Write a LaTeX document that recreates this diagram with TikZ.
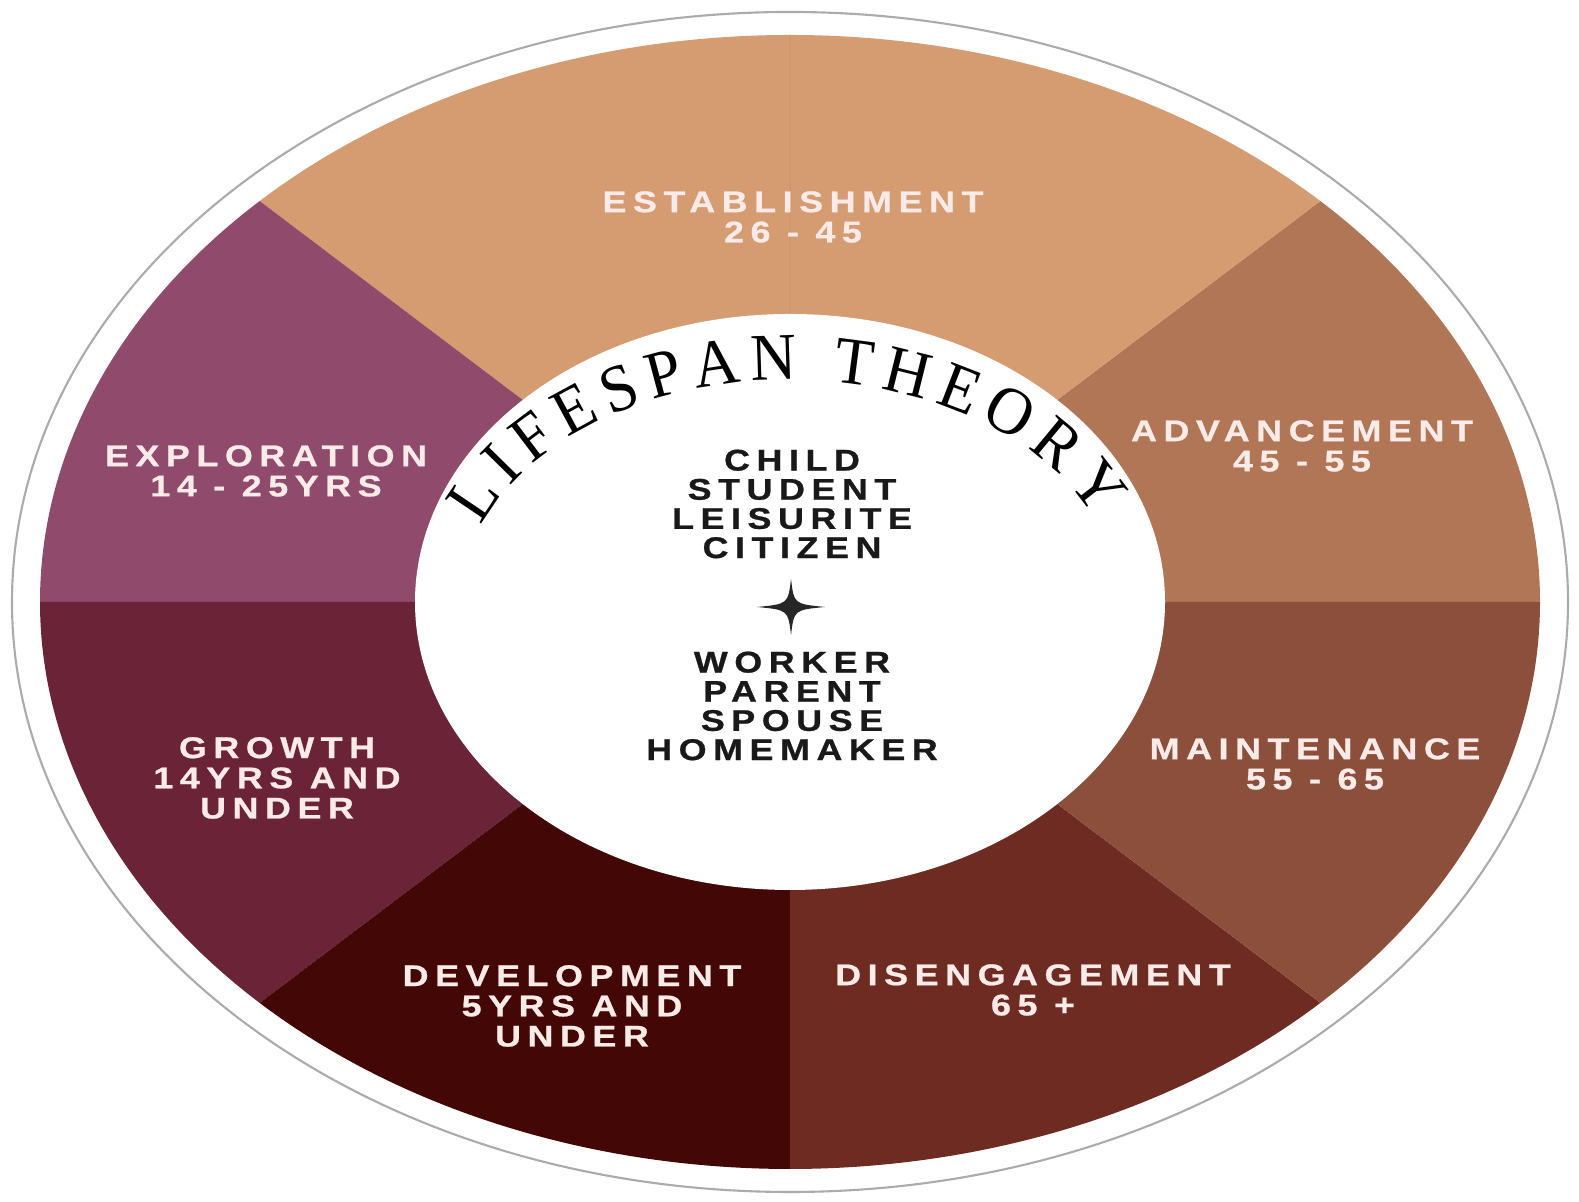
\documentclass[tikz,border=0pt]{standalone}
\usepackage{fontspec}
\setmainfont{Liberation Serif}
\newfontfamily\stagefont{Liberation Sans}[FakeStretch=1.2,LetterSpace=22,FakeBold=0.8]
\newfontfamily\arcfont{Liberation Serif}[FakeStretch=0.95]
\usetikzlibrary{calc,decorations.text}

\definecolor{establish}{HTML}{D59B71}
\definecolor{advance}{HTML}{B17655}
\definecolor{maintain}{HTML}{8B4F3B}
\definecolor{disengage}{HTML}{6D2B22}
\definecolor{develop}{HTML}{430806}
\definecolor{growth}{HTML}{6B2437}
\definecolor{explore}{HTML}{8F4A6C}
\definecolor{stagetext}{HTML}{FAEAE8}
\definecolor{rimgray}{HTML}{ABABAB}

\begin{document}
\begin{tikzpicture}
  \tikzstyle{stage} = [text=stagetext, align=center, inner sep=0pt, font={\stagefont\bfseries\fontsize{8.5}{8.6}\selectfont}]
  \tikzstyle{roles} = [text=black!90, align=center, inner sep=0pt, font={\stagefont\bfseries\fontsize{8.5}{8.3}\selectfont}]

  \useasboundingbox (0,0) rectangle (15.79,12.02);
  \coordinate (c) at (7.90,6.00);

  % outer rim and the seven stages
  \draw[rimgray, line width=0.6pt] (c) ellipse [x radius=7.78, y radius=5.90];
  \foreach \from/\to/\col in {0/45/advance, 45/135/establish, 135/180/explore, 180/225/growth,
                              225/270/develop, 270/315/disengage, 315/360/maintain}
    \fill[\col] (c) -- ++(\from:7.5 and 5.67) arc[start angle=\from, end angle=\to, x radius=7.5, y radius=5.67] -- cycle;
  \draw[establish!97!black, line width=0.3pt] (c) -- ++(90:7.5 and 5.67);
  \fill[white] (c) ellipse [x radius=3.75, y radius=2.88];

  % title along the inner ellipse
  \path[decorate, decoration={text along path, text align={fit to path},
        text={|\arcfont\fontsize{19}{19}\selectfont|LIFESPAN THEORY}}]
    ($(c)+(160:3.28 and 2.22)$) arc[start angle=160, end angle=22, x radius=3.28, y radius=2.22];

  \node[stage] (establishment) at (7.93,9.85) {ESTABLISHMENT\\26 - 45};
  \node[stage] (advancement) at (13.02,7.56) {ADVANCEMENT\\45 - 55};
  \node[stage] (maintenance) at (13.15,4.38) {MAINTENANCE\\55 - 65};
  \node[stage] (disengagement) at (10.33,2.12) {DISENGAGEMENT\\65 +};
  \node[stage] (development) at (5.72,1.96) {DEVELOPMENT\\5YRS AND\\UNDER};
  \node[stage] (growth) at (2.77,4.24) {GROWTH\\14YRS AND\\UNDER};
  \node[stage] (exploration) at (2.66,7.31) {EXPLORATION\\14 - 25YRS};

  \node[roles] (lifeRoles) at (7.92,6.98) {CHILD\\STUDENT\\LEISURITE\\CITIZEN};
  \node[roles] (workRoles) at (7.92,4.96) {WORKER\\PARENT\\SPOUSE\\HOMEMAKER};

  % sparkle between the two role lists
  \coordinate (spark) at (7.91,5.95);
  \fill[black!85] ($(spark)+(0,0.28)$) .. controls ($(spark)+(0.03,0.03)$) .. ($(spark)+(0.34,0)$)
    .. controls ($(spark)+(0.03,-0.03)$) .. ($(spark)+(0,-0.28)$)
    .. controls ($(spark)+(-0.03,-0.03)$) .. ($(spark)+(-0.34,0)$)
    .. controls ($(spark)+(-0.03,0.03)$) .. cycle;
\end{tikzpicture}
\end{document}
